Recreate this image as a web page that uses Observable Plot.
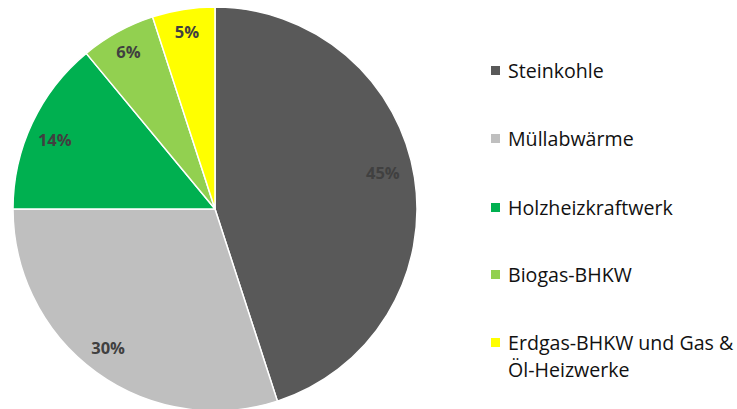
<!DOCTYPE html>
<html><head><meta charset="utf-8">
<script src="https://cdn.jsdelivr.net/npm/d3@7"></script>
<script src="https://cdn.jsdelivr.net/npm/@observablehq/plot@0.6"></script>
<style>
body{margin:0;background:#fff;font-family:"Open Sans",sans-serif;}
#wrap{position:relative;width:737px;height:409px;overflow:hidden;}
#legend{position:absolute;left:491px;top:0;width:246px;}
.item{position:absolute;left:0;display:flex;align-items:center;font-size:19.6px;color:#111;line-height:27px;white-space:nowrap;}
.sw{width:9px;height:9px;margin-right:8px;flex:none;}
</style></head><body>
<div id="wrap"></div>
<script>
const categories = ["Steinkohle","Müllabwärme","Holzheizkraftwerk","Biogas-BHKW","Erdgas-BHKW und Gas & Öl-Heizwerke"];
const legendLabels = ["Steinkohle","Müllabwärme","Holzheizkraftwerk","Biogas-BHKW","Erdgas-BHKW und Gas &<br>Öl-Heizwerke"];
const shares = [45, 30, 14, 6, 5];
const colors = ["#595959","#bfbfbf","#00b050","#92d050","#ffff00"];

const data = categories.map((c,i)=>({category:c, value:shares[i]}));
const color = Plot.scale({color:{type:"ordinal", domain:categories, range:colors}});

const W = 737, H = 409, cx = 215, cy = 209, R = 202;

function pieMark(index, scales, values, dimensions, context) {
  const pie = d3.pie().sort(null).value(d=>d.value)(data);
  const arc = d3.arc().innerRadius(0).outerRadius(R);
  const g = d3.create("svg:g").attr("transform", `translate(${cx},${cy})`);
  g.selectAll("path").data(pie).join("path")
    .attr("d", arc)
    .attr("fill", d=>color.apply(d.data.category))
    .attr("stroke", "#fff").attr("stroke-width", 1.5).attr("stroke-linejoin","round");
  // label placement similar to Excel's "best fit"
  const labelPos = (d, i) => {
    const frac = d.data.value/100;
    let r = R*0.865, a = (d.startAngle+d.endAngle)/2;
    if (i === 0) { a -= 0.055; r = R*0.85; }
    if (i === 1) a += 0.03;
    if (i === 2) a -= 0.03;
    if (frac < 0.08) r = R*0.89;
    return [r*Math.sin(a), -r*Math.cos(a)];
  };
  g.selectAll("text").data(pie).join("text")
    .attr("x", (d,i)=>labelPos(d,i)[0]).attr("y", (d,i)=>labelPos(d,i)[1])
    .attr("text-anchor","middle").attr("dominant-baseline","central")
    .attr("font-family","Open Sans, sans-serif").attr("font-weight","bold")
    .attr("font-size", 16.5).attr("fill","#404040")
    .text(d=>d.data.value+"%");
  return g.node();
}

const chart = Plot.plot({
  width: W, height: H, margin: 0,
  x:{axis:null}, y:{axis:null},
  style:{background:"transparent", overflow:"visible"},
  marks:[pieMark]
});
const wrap = document.getElementById("wrap");
wrap.appendChild(chart);

const legend = document.createElement("div");
legend.id = "legend";
const centers = [70.5, 138.5, 207.5, 274.5, 356];
categories.forEach((c,i)=>{
  const it = document.createElement("div");
  it.className = "item";
  const lines = legendLabels[i].includes("<br>") ? 2 : 1;
  it.style.top = (centers[i] - lines*27/2) + "px";
  it.innerHTML = `<span class="sw" style="background:${color.apply(c)};${lines>1?'align-self:flex-start;margin-top:9px;':''}"></span><span>${legendLabels[i]}</span>`;
  legend.appendChild(it);
});
wrap.appendChild(legend);
</script>
</body></html>
